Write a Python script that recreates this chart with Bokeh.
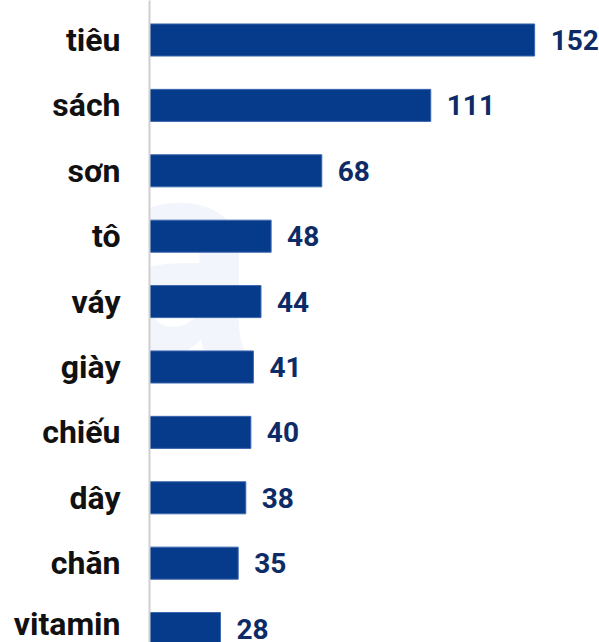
from bokeh.plotting import figure
from bokeh.models import ColumnDataSource, Range1d, FixedTicker, Label
from bokeh.core.properties import value
from bokeh.embed import file_html
from bokeh.resources import INLINE

categories = ["tiêu", "sách", "sơn", "tô", "váy", "giày", "chiếu", "dây", "chăn", "vitamin"]
values = [152, 111, 68, 48, 44, 41, 40, 38, 35, 28]

idx = list(range(len(categories)))
src = ColumnDataSource(dict(y=idx, v=values, lab=[str(v) for v in values]))

W, H = 599, 642
p = figure(width=W, height=H, output_backend="svg", toolbar_location=None,
           x_range=Range1d(0, 177.6), y_range=Range1d(9.213, -0.604),
           min_border_left=149, min_border_right=0, min_border_top=0, min_border_bottom=0,
           outline_line_color=None, background_fill_color="white",
           border_fill_color=None)

wm = Label(x=-140, y=221, x_units="screen", y_units="screen", text="ta",
           text_font="Roboto", text_font_style="bold", text_font_size="280px",
           text_color="#f2f5fc", level="underlay")
p.add_layout(wm)

p.hbar(y="y", left=0, right="v", height=0.49, source=src,
       fill_color="#063a8b", line_color="#3b66ad", line_width=1)
p.text(x="v", y="y", text="lab", source=src, x_offset=16,
       text_font=value("Roboto"), text_font_style="bold", text_font_size="28px",
       text_color="#0d2b66", text_baseline="middle", text_align="left")

p.xaxis.visible = False
p.xgrid.visible = False
p.ygrid.visible = False
ya = p.yaxis[0]
ya.ticker = FixedTicker(ticks=idx)
ya.major_label_overrides = {i: c for i, c in zip(idx, categories)}
ya.major_label_text_font = "Roboto"
ya.major_label_text_font_style = "bold"
ya.major_label_text_font_size = "32px"
ya.major_label_text_color = "#111111"
ya.major_label_standoff = 23
ya.major_tick_line_color = None
ya.minor_tick_line_color = None
ya.axis_line_color = "#cfcfcf"
ya.axis_line_width = 2

open("out.html", "w").write(file_html(p, INLINE))
